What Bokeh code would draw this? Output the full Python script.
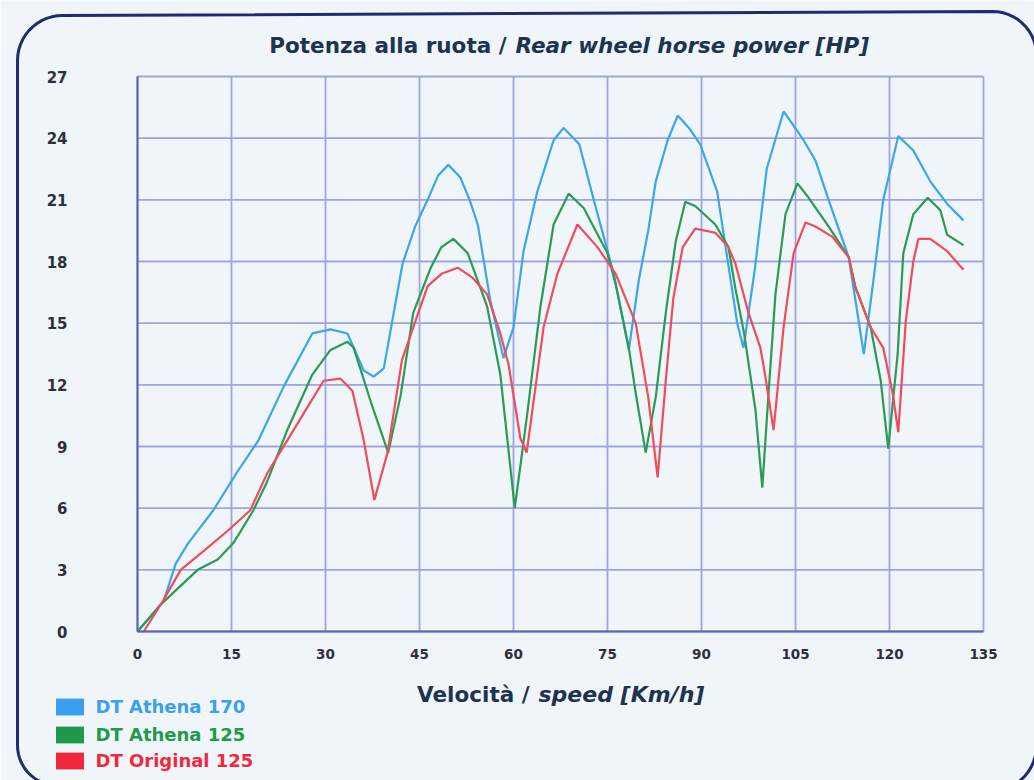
import numpy as np
from bokeh.plotting import figure
from bokeh.models import Range1d, FixedTicker, Label, Legend, LegendItem, PolyAnnotation
from bokeh.embed import file_html
from bokeh.resources import INLINE

# ---------------- data ----------------
series_names = ["DT Athena 170", "DT Athena 125", "DT Original 125"]

blue_x = [0, 4.2, 6.1, 8.1, 12.1, 16.0, 19.3, 23.3, 27.9, 30.8, 33.5, 36.1, 37.7, 39.3,
          42.3, 44.3, 46.3, 48.0, 49.6, 51.5, 53.0, 54.3, 56.3, 58.4, 60.0, 61.6, 63.8,
          66.4, 68.0, 70.5, 72.8, 76.0, 78.4, 80.0, 81.5, 82.7, 84.6, 86.2, 88.0, 89.8,
          92.5, 94.1, 95.7, 96.7, 98.5, 100.4, 103.1, 106.3, 108.2, 110.5, 113.5, 115.9,
          117.4, 119.0, 121.4, 123.8, 126.5, 129.2, 131.8]
blue_y = [0, 1.5, 3.3, 4.3, 5.9, 7.8, 9.3, 11.9, 14.5, 14.7, 14.5, 12.7, 12.4, 12.8,
          17.9, 19.7, 21.0, 22.2, 22.7, 22.1, 21.0, 19.8, 16.1, 13.3, 14.8, 18.5, 21.4,
          23.9, 24.5, 23.7, 21.0, 17.4, 13.7, 17.1, 19.5, 21.9, 23.9, 25.1, 24.5, 23.7,
          21.4, 18.2, 15.0, 13.8, 17.6, 22.5, 25.3, 23.9, 22.9, 20.8, 18.2, 13.5,
          17.0, 21.0, 24.1, 23.4, 21.9, 20.8, 20.0]

green_x = [0, 3.7, 6.1, 9.6, 12.8, 15.3, 18.5, 20.7, 23.9, 27.9, 30.8, 33.5, 34.5, 37.2,
           40.0, 42.0, 44.0, 46.8, 48.5, 50.4, 52.7, 55.8, 57.9, 60.2, 62.2, 64.3, 66.4,
           68.8, 71.2, 75.0, 76.3, 78.4, 79.5, 81.1, 82.7, 84.3, 85.9, 87.4, 89.0, 92.2,
           94.3, 95.4, 96.8, 98.6, 99.7, 100.7, 101.8, 103.4, 105.3, 107.1, 110.3, 113.5,
           114.6, 117.0, 118.6, 119.8, 121.3, 122.2, 123.8, 126.1, 128.1, 129.2, 131.8]
green_y = [0, 1.3, 2.0, 3.0, 3.5, 4.3, 5.9, 7.3, 9.8, 12.5, 13.7, 14.1, 13.8, 11.2,
           8.7, 11.5, 15.5, 17.7, 18.7, 19.1, 18.4, 15.8, 12.5, 6.0, 10.6, 15.8, 19.8,
           21.3, 20.6, 18.4, 16.9, 13.8, 11.6, 8.7, 11.4, 15.5, 19.0, 20.9, 20.7, 19.8,
           18.7, 16.7, 14.5, 10.8, 7.0, 11.6, 16.4, 20.3, 21.8, 21.1, 19.7, 18.2,
           16.7, 14.8, 12.2, 8.9, 13.5, 18.4, 20.3, 21.1, 20.5, 19.3, 18.8]

red_x = [1.0, 4.1, 6.9, 10.1, 14.4, 18.0, 20.7, 23.9, 27.1, 29.7, 32.4, 34.3, 36.1, 37.8,
         39.9, 42.2, 44.0, 46.3, 48.5, 51.1, 53.5, 55.8, 57.9, 59.2, 61.1, 62.1, 63.2,
         64.8, 67.0, 70.2, 73.4, 76.3, 79.5, 81.5, 83.0, 84.3, 85.5, 87.0, 89.0, 92.2,
         94.3, 95.4, 97.5, 99.4, 100.2, 101.5, 103.1, 104.7, 106.6, 108.2, 110.9, 113.5,
         114.5, 117.0, 119.0, 120.5, 121.4, 122.6, 123.8, 124.6, 126.5, 129.2, 131.8]
red_y = [0, 1.5, 3.0, 3.8, 4.9, 5.9, 7.7, 9.3, 10.9, 12.2, 12.3, 11.7, 9.3, 6.4,
         8.7, 13.2, 14.8, 16.8, 17.4, 17.7, 17.2, 16.4, 14.5, 13.0, 9.4, 8.7, 11.2,
         14.8, 17.4, 19.8, 18.7, 17.4, 15.0, 11.4, 7.5, 12.2, 16.2, 18.7, 19.6, 19.4,
         18.7, 17.9, 15.5, 13.8, 12.4, 9.8, 14.8, 18.4, 19.9, 19.7, 19.2, 18.2,
         16.8, 14.8, 13.8, 11.6, 9.7, 15.1, 18.0, 19.1, 19.1, 18.5, 17.6]

x_ticks = [0, 15, 30, 45, 60, 75, 90, 105, 120, 135]
y_ticks = [0, 3, 6, 9, 12, 15, 18, 21, 24, 27]

# ---------------- styling / layout ----------------
BG = "#eff5f8"
GRID = "#9fa5e2"
AXIS = "#5c62b4"
TXT = "#1d3350"
TICK_TXT = "#2e2e3e"
NAVY = "#1f2d6e"
line_colors = ["#3ba6e8", "#2b9a55", "#f24b5a"]
legend_colors = ["#3a9ff0", "#1f9a4c", "#f0283c"]
FONT = "DejaVu Sans"

W, H = 1034, 780
# pixel edges of the chart's plotting area inside the canvas
AL, AR, AT, AB = 137, 983, 76, 631
X0, X1 = x_ticks[0], x_ticks[-1]
Y0, Y1 = y_ticks[0], y_ticks[-1]
ppx = (AR - AL) / (X1 - X0)
ppy = (AB - AT) / (Y1 - Y0)

# the frame fills the whole canvas; data range is set so 0..135 / 0..27 lands on the area
p = figure(width=W, height=H, output_backend="svg", toolbar_location=None,
           x_range=Range1d(X0 - AL / ppx, X0 + (W - AL) / ppx),
           y_range=Range1d(Y0 - (H - AB) / ppy, Y0 + AB / ppy),
           min_border=0, min_border_left=0, min_border_right=0,
           min_border_top=0, min_border_bottom=0,
           background_fill_color=BG, border_fill_color=BG)
p.outline_line_color = None
p.grid.visible = False

def dx(px):
    return X0 + (px - AL) / ppx

def dy(py):
    return Y0 + (AB - py) / ppy

# grid lines from the tick lists
p.segment(x0=x_ticks, y0=[Y0] * len(x_ticks), x1=x_ticks, y1=[Y1] * len(x_ticks),
          line_color=GRID, line_width=1.8)
p.segment(x0=[X0] * len(y_ticks), y0=y_ticks, x1=[X1] * len(y_ticks), y1=y_ticks,
          line_color=GRID, line_width=1.8)

# axes pinned to the area edges
p.xaxis.fixed_location = Y0
p.yaxis.fixed_location = X0
p.xaxis.bounds = (X0, X1)
p.yaxis.bounds = (Y0, Y1)
p.xaxis.ticker = FixedTicker(ticks=x_ticks)
p.yaxis.ticker = FixedTicker(ticks=y_ticks)
for ax in (p.xaxis, p.yaxis):
    ax.major_tick_out = 0
    ax.major_tick_in = 0
    ax.minor_tick_out = 0
    ax.minor_tick_in = 0
    ax.axis_line_color = AXIS
    ax.axis_line_width = 2
    ax.major_label_text_font = FONT
    ax.major_label_text_font_style = "bold"
    ax.major_label_text_color = TICK_TXT
p.yaxis.major_label_standoff = 70
p.yaxis.major_label_text_font_size = "15px"
p.xaxis.major_label_standoff = 17
p.xaxis.major_label_text_font_size = "13.5px"

# series
series = [(blue_x, blue_y), (green_x, green_y), (red_x, red_y)]
for (xs, ys), col in zip(series, line_colors):
    p.line(xs, ys, line_color=col, line_width=2.2)

# legends: one per series so each label can have its own colour
leg_rows = [706.5, 734, 760.5]   # canvas y of row centres
for name, col, cy, (xs, ys) in zip(series_names, legend_colors, leg_rows, series):
    # zero-size rect: only used to draw the legend swatch
    r = p.rect(x=xs[:1], y=ys[:1], width=0, height=0, fill_color=col, line_color=None)
    lg = Legend(items=[LegendItem(label=name, renderers=[r])],
                location=(51.5, H - cy - 10.5),
                glyph_width=35, glyph_height=21, label_height=21,
                label_standoff=9, padding=0, margin=0, spacing=0,
                border_line_color=None, background_fill_alpha=0,
                label_text_font=FONT, label_text_font_style="bold",
                label_text_font_size="18px", label_text_color=col)
    p.add_layout(lg)

# title (two styles)
ty = dy(45)
p.add_layout(Label(x=dx(506), y=ty, text="Potenza alla ruota /", text_align="right",
                   text_baseline="middle", text_font=FONT, text_font_style="bold",
                   text_font_size="21.5px", text_color=TXT))
p.add_layout(Label(x=dx(515), y=ty, text="Rear wheel horse power [HP]", text_align="left",
                   text_baseline="middle", text_font=FONT, text_font_style="bold italic",
                   text_font_size="21.5px", text_color=TXT))

# x-axis title (two styles)
xy = dy(694)
p.add_layout(Label(x=dx(529), y=xy, text="Velocità /", text_align="right",
                   text_baseline="middle", text_font=FONT, text_font_style="bold",
                   text_font_size="21.5px", text_color=TXT))
p.add_layout(Label(x=dx(538), y=xy, text="speed [Km/h]", text_align="left",
                   text_baseline="middle", text_font=FONT, text_font_style="bold italic",
                   text_font_size="22px", text_color=TXT))

# rounded navy frame around the chart
def arc(cx, cy, r, a0, a1, n=14):
    a = np.radians(np.linspace(a0, a1, n))
    return list(cx + r * np.cos(a)), list(cy - r * np.sin(a))

px_, py_ = [], []
for seg in [arc(57, 745, 40, 270, 180), arc(62, 60, 45, 180, 90),
            arc(992, 55, 44, 90, 0), arc(990, 745, 46, 0, -90)]:
    px_ += seg[0]
    py_ += seg[1]
p.add_layout(PolyAnnotation(xs=[dx(v) for v in px_], ys=[dy(v) for v in py_],
                            fill_alpha=0, line_color=NAVY, line_alpha=1, line_width=3))

open("out.html", "w").write(file_html(p, INLINE))
